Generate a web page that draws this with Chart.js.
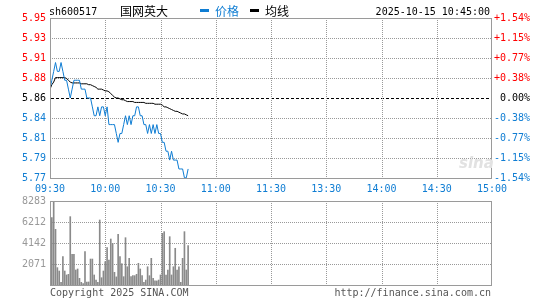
<!DOCTYPE html>
<html><head><meta charset="utf-8">
<script src="https://cdn.jsdelivr.net/npm/chart.js@4.4.1/dist/chart.umd.min.js"></script>
<style>
html,body{margin:0;padding:0;background:#fff;}
#wrap{position:relative;width:545px;height:300px;overflow:hidden;font-family:'DejaVu Sans Mono',monospace;}
canvas{position:absolute;left:0;top:0;}
.t{position:absolute;white-space:nowrap;line-height:1;}
.cjk{font-family:'Noto Sans CJK SC',sans-serif;font-size:12px;}
.mono{font-family:'DejaVu Sans Mono',monospace;font-size:10px;}
</style></head><body>
<div id="wrap">
<canvas id="cv" width="545" height="300"></canvas>
<canvas id="cp" width="545" height="300"></canvas>
<div class="t mono" style="left:49px;top:7px;color:#000">sh600517</div>
<div class="t cjk" style="left:120px;top:5px;color:#000">国网英大</div>
<div class="t" style="left:200px;top:9px;width:9px;height:3px;background:#0f7dd3"></div>
<div class="t cjk" style="left:215px;top:5px;color:#0f7dd3">价格</div>
<div class="t" style="left:250px;top:9px;width:9px;height:3px;background:#000"></div>
<div class="t cjk" style="left:265px;top:5px;color:#000">均线</div>
<div class="t mono" style="right:55px;top:7px;color:#000">2025-10-15 10:45:00</div>
<div class="t" style="left:459px;top:156px;font-family:'DejaVu Sans',sans-serif;font-style:italic;font-weight:bold;font-size:15px;color:#e2e2e2">sina</div>
<div class="t mono" style="left:50px;top:288px;color:#555">Copyright 2025 SINA.COM</div>
<div class="t mono" style="right:54px;top:288px;color:#555">http://finance.sina.com.cn</div>
</div>
<script>
const prevClose = 5.86;
const timeTicks = [0,30,60,90,120,150,180,210,240];
const timeLabels = ['09:30','10:00','10:30','11:00','11:30','13:30','14:00','14:30','15:00'];
const priceTicks = [5.7698,5.79235,5.8149,5.83745,5.86,5.88255,5.9051,5.92765,5.9502];
const priceTickLabels = ['5.77','5.79','5.81','5.84','5.86','5.88','5.91','5.93','5.95'];
const pctTickLabels = ['-1.54%','-1.15%','-0.77%','-0.38%',' 0.00%','+0.38%','+0.77%','+1.15%','+1.54%'];
const volumeTicks = [0,2071,4142,6212,8283];
const volumeTickLabels = ['','2071','4142','6212','8283'];

const priceValues = [
 5.87,5.88,5.89,5.90,5.89,5.89,5.90,5.89,5.88,5.88,
 5.87,5.86,5.87,5.88,5.88,5.88,5.88,5.87,5.87,5.87,
 5.86,5.86,5.86,5.85,5.84,5.84,5.85,5.84,5.85,5.85,
 5.84,5.85,5.83,5.83,5.83,5.83,5.82,5.81,5.82,5.82,
 5.83,5.84,5.83,5.84,5.83,5.84,5.84,5.85,5.85,5.84,
 5.84,5.83,5.83,5.82,5.83,5.82,5.83,5.82,5.83,5.82,
 5.82,5.81,5.81,5.80,5.80,5.79,5.80,5.79,5.79,5.79,
 5.78,5.78,5.78,5.77,5.77,5.78];
const avgValues = [
 5.870,5.875,5.878,5.883,5.883,5.883,5.883,5.883,5.883,5.882,
 5.880,5.878,5.877,5.877,5.877,5.877,5.877,5.876,5.876,5.876,
 5.876,5.875,5.875,5.874,5.873,5.872,5.870,5.870,5.870,5.869,
 5.868,5.868,5.867,5.865,5.863,5.861,5.860,5.860,5.859,5.858,
 5.858,5.857,5.856,5.856,5.856,5.856,5.855,5.855,5.855,5.855,
 5.855,5.855,5.854,5.854,5.854,5.854,5.854,5.853,5.853,5.853,
 5.853,5.852,5.850,5.850,5.849,5.848,5.847,5.846,5.845,5.845,
 5.844,5.843,5.842,5.842,5.841,5.840];
const volumeValues = [
 820,6640,8283,5490,1710,1380,265,2800,1380,990,
 1050,6740,3030,3030,1480,1580,660,265,150,3290,
 300,300,2560,2560,990,490,265,6410,720,1380,
 2300,3700,2465,4535,4110,1250,800,5000,2800,2100,
 820,4665,1800,2630,820,920,920,1050,2140,1580,
 920,265,490,1800,920,2630,660,400,400,490,
 990,5095,5260,990,1480,4765,990,1800,3620,1480,
 1800,265,2630,5260,1480,3880];

const BLUE = '#0f7dd3', RED = '#ff0000', GRID = '#999999', FRAME = '#9a9a9a';
Chart.defaults.font.family = "'DejaVu Sans Mono', monospace";
Chart.defaults.font.size = 10;

// grid + frame drawn from the chart's own scales, as crisp pixel dots
function gridPlugin(yTicks, zeroIndex) {
  return {
    id: 'sinaGrid',
    afterDraw(chart) {
      const {ctx, chartArea: a, scales} = chart;
      const L = Math.round(a.left), R = Math.round(a.right) - 1;
      const T = Math.round(a.top), B = Math.round(a.bottom);
      ctx.save();
      ctx.globalCompositeOperation = 'destination-over';
      ctx.fillStyle = GRID;
      for (let i = 1; i < timeTicks.length - 1; i++) {
        const px = Math.round(scales.x.getPixelForValue(timeTicks[i]));
        for (let y = T + 2; y < B; y += 2) ctx.fillRect(px, y, 1, 1);
      }
      for (let i = 1; i < yTicks.length - 1; i++) {
        const py = Math.round(scales.y.getPixelForValue(yTicks[i]));
        if (i === zeroIndex) {
          ctx.fillStyle = '#000';
          for (let x = L + 1; x < R; x += 5) ctx.fillRect(x, py, Math.min(3, R - x), 1);
          ctx.fillStyle = GRID;
        } else {
          for (let x = L + 2; x < R; x += 2) ctx.fillRect(x, py, 1, 1);
        }
      }
      ctx.globalCompositeOperation = 'source-over';
      ctx.fillStyle = FRAME;
      ctx.fillRect(L, T, R - L + 1, 1);
      ctx.fillRect(L, B, R - L + 1, 1);
      ctx.fillRect(L, T, 1, B - T + 1);
      ctx.fillRect(R, T, 1, B - T + 1);
      ctx.restore();
    }
  };
}

const setTicks = (arr) => (s) => { s.ticks = arr.map(v => ({value: v})); };
const noGrid = () => ({grid: {display: false, drawTicks: false, tickLength: 0}, border: {display: false}});

new Chart(document.getElementById('cv'), {
  type: 'bar',
  data: {datasets: [{data: volumeValues.map((v, i) => ({x: i, y: v})), backgroundColor: '#8a8a8a', borderWidth: 0, barThickness: 1}]},
  options: {
    responsive: false, animation: false, events: [],
    layout: {padding: {top: 201, bottom: 15, right: 53, left: 0}},
    plugins: {legend: {display: false}, tooltip: {enabled: false}},
    scales: {
      x: Object.assign({type: 'linear', min: 0, max: 240, offset: false,
        afterBuildTicks: setTicks(timeTicks), ticks: {display: false},
        afterFit: s => { s.height = 0; }}, noGrid()),
      y: Object.assign({min: 0, max: 8283,
        afterBuildTicks: setTicks(volumeTicks),
        afterFit: s => { s.width = 50; },
        ticks: {padding: 4, color: '#999', callback: (v, i) => volumeTickLabels[i]}}, noGrid())
    }
  },
  plugins: [gridPlugin(volumeTicks, -1)]
});

new Chart(document.getElementById('cp'), {
  type: 'line',
  data: {datasets: [
    {data: priceValues.map((v, i) => ({x: i, y: v})), borderColor: BLUE, borderWidth: 1, pointRadius: 0, tension: 0, fill: false},
    {data: avgValues.map((v, i) => ({x: i, y: v})), borderColor: '#000', borderWidth: 1, pointRadius: 0, tension: 0, fill: false}
  ]},
  options: {
    responsive: false, animation: false, events: [],
    layout: {padding: {top: 18, bottom: 102, left: 0, right: 0}},
    plugins: {legend: {display: false}, tooltip: {enabled: false}},
    scales: {
      x: Object.assign({type: 'linear', min: 0, max: 240, offset: false,
        afterBuildTicks: setTicks(timeTicks),
        afterFit: s => { s.height = 20; },
        ticks: {autoSkip: false, maxRotation: 0, padding: 5, color: BLUE, callback: (v, i) => timeLabels[i]}}, noGrid()),
      y: Object.assign({position: 'left', min: priceTicks[0], max: priceTicks[8],
        afterBuildTicks: setTicks(priceTicks),
        afterFit: s => { s.width = 50; },
        ticks: {padding: 4, callback: (v, i) => priceTickLabels[i],
          color: c => c.index > 4 ? RED : (c.index < 4 ? BLUE : '#000')}}, noGrid()),
      y2: Object.assign({position: 'right', min: priceTicks[0], max: priceTicks[8],
        afterBuildTicks: setTicks(priceTicks),
        afterFit: s => { s.width = 53; },
        ticks: {padding: 2, callback: (v, i) => pctTickLabels[i],
          color: c => c.index > 4 ? RED : (c.index < 4 ? BLUE : '#000')}}, noGrid())
    }
  },
  plugins: [gridPlugin(priceTicks, 4)]
});
</script>
</body></html>
